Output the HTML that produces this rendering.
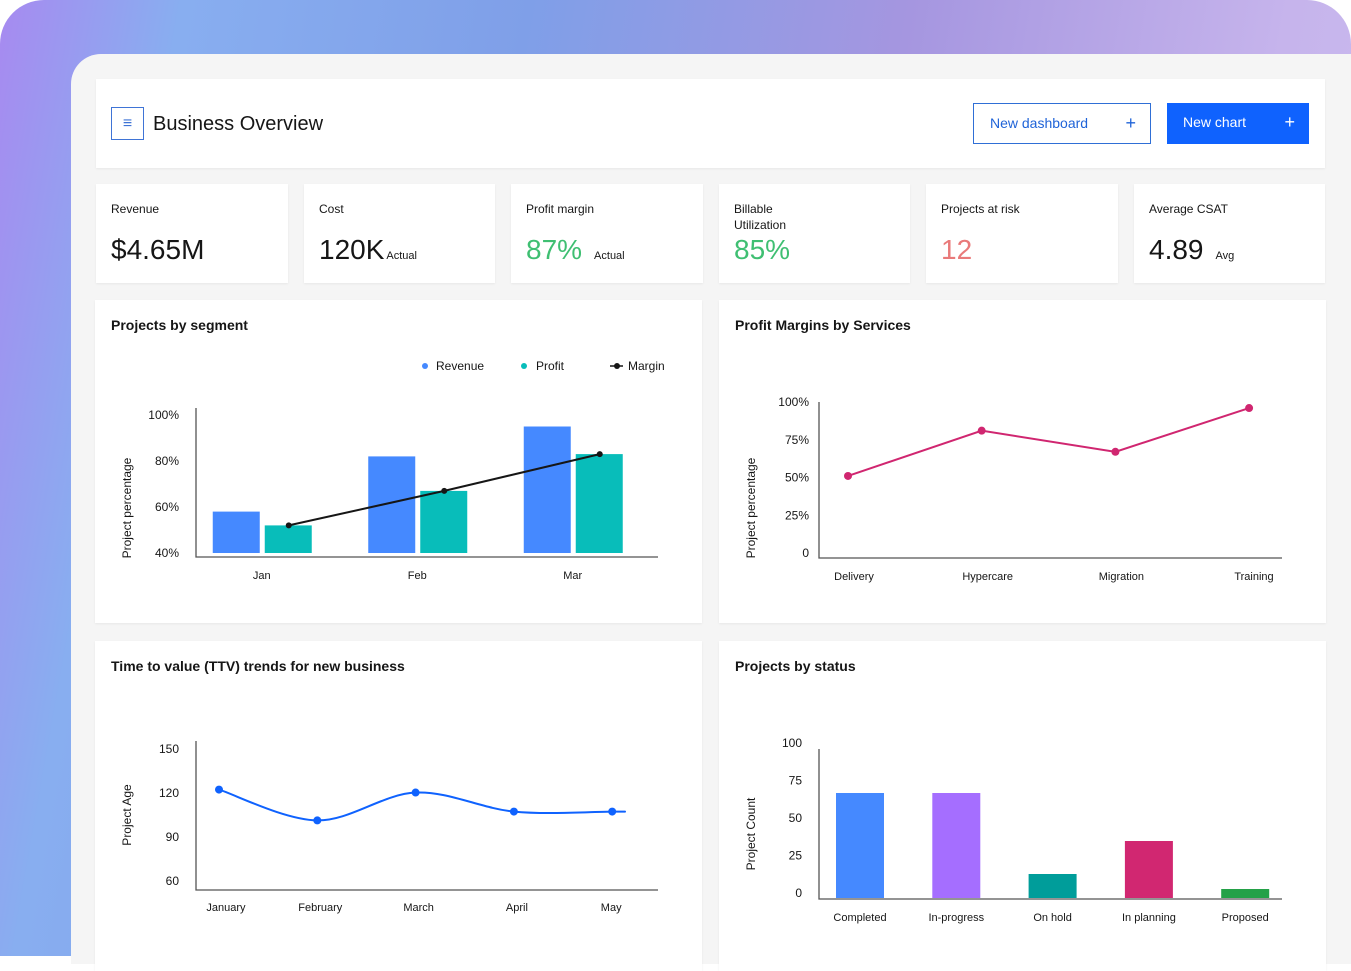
<!DOCTYPE html>
<html><head><meta charset="utf-8">
<style>
*{margin:0;padding:0;box-sizing:border-box}
body{width:1351px;height:956px;overflow:hidden;background:#fff;font-family:"Liberation Sans",sans-serif;color:#161616;position:relative}
#bg{position:absolute;left:0;top:0;width:1351px;height:956px;border-radius:44px 44px 0 0;background:linear-gradient(100deg,#a78af0 0%,#88aef0 12%,#7f9fe8 35%,#a596e0 60%,#c6b4ec 85%,#cbbdf0 100%)}
#panel{position:absolute;left:71px;top:54px;width:1290px;height:910px;background:#f5f5f5;border-radius:30px 0 0 0}
.card{position:absolute;background:#fff;box-shadow:0 1px 2px rgba(0,0,0,.06)}
.lbl{position:absolute;left:15px;top:17px;font-size:12px;line-height:16px}
.val{position:absolute;left:15px;top:50px;font-size:28px}
.val small{font-size:11px;margin-left:4px}
.title{position:absolute;left:16px;top:17px;font-size:14px;font-weight:bold}
.btn{position:absolute;top:103px;height:41px;font-size:14px;line-height:39px;padding-left:16px}
svg text{font-family:"Liberation Sans",sans-serif}
</style></head><body>
<div id="bg"></div>
<div id="panel"></div>
<div class="card" style="left:96px;top:79px;width:1229px;height:89px">
  <div style="position:absolute;left:15px;top:28px;width:33px;height:33px;border:1px solid #3f74d6;display:flex;align-items:center;justify-content:center;color:#3f74d6;font-size:16px">≡</div>
  <div style="position:absolute;left:57px;top:34px;font-size:20px">Business Overview</div>
</div>
<div class="btn" style="left:973px;width:178px;border:1px solid #2f6fd6;color:#1f63d8;background:#fff">New dashboard<span style="position:absolute;right:14px;font-size:18px">+</span></div>
<div class="btn" style="left:1167px;width:142px;background:#0f62fe;color:#fff">New chart<span style="position:absolute;right:14px;font-size:18px">+</span></div>

<div class="card" style="left:96px;top:184px;width:192px;height:99px"><div class="lbl">Revenue</div><div class="val">$4.65M</div></div>
<div class="card" style="left:304px;top:184px;width:191px;height:99px"><div class="lbl">Cost</div><div class="val">120K<small style="margin-left:2px">Actual</small></div></div>
<div class="card" style="left:511px;top:184px;width:192px;height:99px"><div class="lbl">Profit margin</div><div class="val" style="color:#3fbf72">87%<small style="color:#161616;margin-left:12px">Actual</small></div></div>
<div class="card" style="left:719px;top:184px;width:191px;height:99px"><div class="lbl">Billable<br>Utilization</div><div class="val" style="color:#3fbf72">85%</div></div>
<div class="card" style="left:926px;top:184px;width:192px;height:99px"><div class="lbl">Projects at risk</div><div class="val" style="color:#e97a7a">12</div></div>
<div class="card" style="left:1134px;top:184px;width:191px;height:99px"><div class="lbl">Average CSAT</div><div class="val">4.89<small style="margin-left:12px">Avg</small></div></div>

<div class="card" style="left:95px;top:300px;width:607px;height:323px"><div class="title">Projects by segment</div></div>
<div class="card" style="left:719px;top:300px;width:607px;height:323px"><div class="title">Profit Margins by Services</div></div>
<div class="card" style="left:95px;top:641px;width:607px;height:330px"><div class="title">Time to value (TTV) trends for new business</div></div>
<div class="card" style="left:719px;top:641px;width:607px;height:330px"><div class="title">Projects by status</div></div>

<svg id="charts" width="1351" height="956" style="position:absolute;left:0;top:0"></svg>

<script>
// Chart 1: Projects by segment
const segCats=["Jan","Feb","Mar"];
const segRevenue=[58,82,95];
const segProfit=[52,67,83];
const segMargin=[52,67,83];
const segTicks=[40,60,80,100];
// Chart 2: Profit margins
const pmCats=["Delivery","Hypercare","Migration","Training"];
const pmValues=[53,83,69,98];
const pmTicks=[0,25,50,75,100];
// Chart 3: TTV
const ttvCats=["January","February","March","April","May"];
const ttvValues=[123,102,121,108,108];
const ttvTicks=[60,90,120,150];
// Chart 4: status
const stCats=["Completed","In-progress","On hold","In planning","Proposed"];
const stValues=[70,70,16,38,6];
const stTicks=[0,25,50,75,100];
const stColors=["#4589ff","#a56eff","#009d9a","#d12771","#24a148"];

const svg=document.getElementById('charts');
const NS="http://www.w3.org/2000/svg";
function mk(tag,attrs,parent){const e=document.createElementNS(NS,tag);for(const k in attrs)e.setAttribute(k,attrs[k]);(parent||svg).appendChild(e);return e;}
function txt(x,y,s,anchor,size,parent){const t=mk('text',{x:x,y:y,'text-anchor':anchor||'middle','font-size':size||12,fill:'#161616'},parent);t.textContent=s;return t;}
function lin(d0,d1,r0,r1){return v=>r0+(v-d0)/(d1-d0)*(r1-r0);}
function axes(g,x0,x1,yTop,yBot){mk('path',{d:`M${x0} ${yTop}V${yBot}H${x1}`,fill:'none',stroke:'#555','stroke-width':1.3},g);}
function ytitle(g,x,y,s){const t=txt(x,y,s,'middle',12,g);t.setAttribute('transform',`rotate(-90 ${x} ${y})`);}

// ---- chart 1
{const g=mk('g',{});
const y=lin(40,100,553,415);const bx0=184,step=155.5;
axes(g,196,658,408,557);
segTicks.forEach(t=>{const e=txt(179,y(t)+4,t+'%','end',12,g);});
ytitle(g,131,508,'Project percentage');
const mpts=[];
segCats.forEach((c,i)=>{const cx=bx0+step*(i+0.5);
 const r=mk('rect',{x:cx-49,y:y(segRevenue[i]),width:47,height:y(40)-y(segRevenue[i]),fill:'#4589ff'},g);
 
 const p=mk('rect',{x:cx+3,y:y(segProfit[i]),width:47,height:y(40)-y(segProfit[i]),fill:'#08bdba'},g);
 
 txt(cx,579,c,'middle',11,g);
 mpts.push([cx+27,y(segMargin[i])]);});
const ml=mk('polyline',{points:mpts.map(p=>p.join(',')).join(' '),fill:'none',stroke:'#161616','stroke-width':2},g);

mpts.forEach(p=>{const c=mk('circle',{cx:p[0],cy:p[1],r:3,fill:'#161616'},g);});
const lg=mk('g',{},g);
mk('circle',{cx:425,cy:366,r:3,fill:'#4589ff'},lg);txt(436,370,'Revenue','start',12,lg);
mk('circle',{cx:524,cy:366,r:3,fill:'#08bdba'},lg);txt(536,370,'Profit','start',12,lg);
mk('line',{x1:610,y1:366,x2:623,y2:366,stroke:'#161616','stroke-width':1.5},lg);mk('circle',{cx:617,cy:366,r:3,fill:'#161616'},lg);txt(628,370,'Margin','start',12,lg);
}
// ---- chart 2
{const g=mk('g',{});
const y=lin(0,100,556,405);const x=i=>848+i*133.7;
axes(g,819,1282,402,558);
pmTicks.forEach(t=>txt(809,y(t)+1,t===0?'0':t+'%','end',12,g));
ytitle(g,755,508,'Project percentage');
const pts=pmValues.map((v,i)=>[x(i),y(v)]);
const l=mk('polyline',{points:pts.map(p=>p.join(',')).join(' '),fill:'none',stroke:'#d02670','stroke-width':2},g);

pts.forEach((p,i)=>{const c=mk('circle',{cx:p[0],cy:p[1],r:4,fill:'#d02670'},g);
 txt(Math.min(p[0]+6,1254),580,pmCats[i],'middle',11,g);});
}
// ---- chart 3
{const g=mk('g',{});
const y=lin(60,150,882,750);const x=i=>219+i*98.3;
axes(g,196,658,741,890);
ttvTicks.forEach(t=>txt(179,y(t)+3,String(t),'end',12,g));
ytitle(g,131,815,'Project Age');
const pts=ttvValues.map((v,i)=>[x(i),y(v)]);
pts.push([pts[pts.length-1][0]+13,pts[pts.length-1][1]]);
let d=`M${pts[0][0]},${pts[0][1]}`;
for(let i=0;i<pts.length-1;i++){const p0=pts[Math.max(i-1,0)],p1=pts[i],p2=pts[i+1],p3=pts[Math.min(i+2,pts.length-1)];
 const c1=[p1[0]+(p2[0]-p0[0])/6,p1[1]+(p2[1]-p0[1])/6],c2=[p2[0]-(p3[0]-p1[0])/6,p2[1]-(p3[1]-p1[1])/6];
 d+=` C${c1[0]},${c1[1]} ${c2[0]},${c2[1]} ${p2[0]},${p2[1]}`;}
const l=mk('path',{d:d,fill:'none',stroke:'#0f62fe','stroke-width':2},g);

ttvValues.forEach((v,i)=>{const c=mk('circle',{cx:x(i),cy:y(v),r:4,fill:'#0f62fe'},g);
 txt(x(i)+[7,3,3,3,-1][i],911,ttvCats[i],'middle',11,g);});
}
// ---- chart 4
{const g=mk('g',{});
const y=lin(0,100,898,748);const x=i=>860+i*96.3;
axes(g,819,1282,749,899);
stTicks.forEach(t=>txt(802,y(t)-1,String(t),'end',12,g));
ytitle(g,755,834,'Project Count');
stValues.forEach((v,i)=>{const r=mk('rect',{x:x(i)-24,y:y(v),width:48,height:y(0)-y(v),fill:stColors[i]},g);
 
 txt(x(i),921,stCats[i],'middle',11,g);});
}
</script>
</body></html>
